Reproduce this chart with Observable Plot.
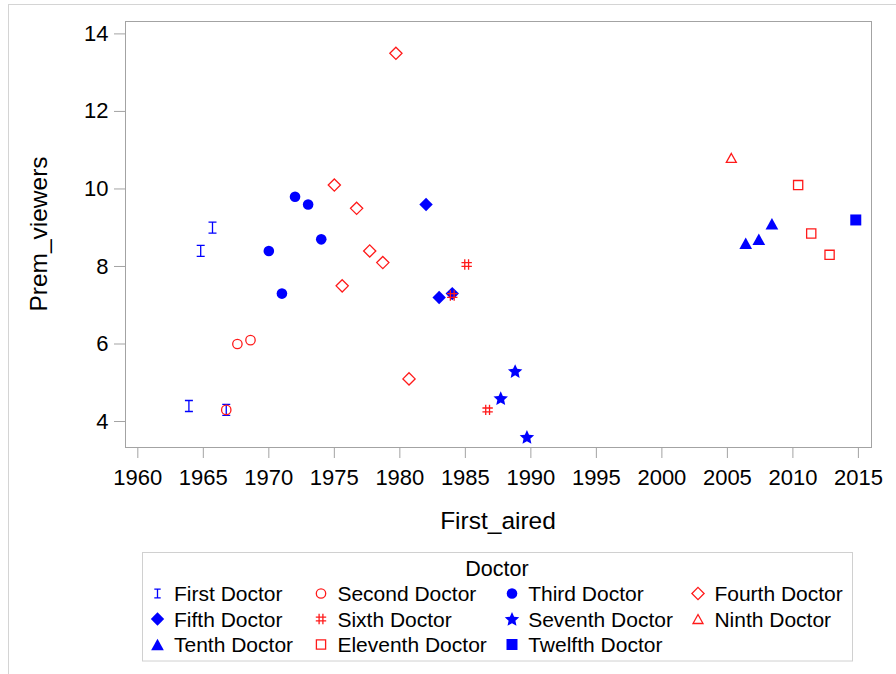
<!DOCTYPE html>
<html><head><meta charset="utf-8">
<script src="https://cdn.jsdelivr.net/npm/d3@7"></script>
<script src="https://cdn.jsdelivr.net/npm/@observablehq/plot@0.6"></script>
<style>
html,body{margin:0;padding:0;background:#fff;}
#wrap{position:relative;width:896px;height:674px;overflow:hidden;font-family:"Liberation Sans",Arial,sans-serif;}
#chart{position:absolute;left:0;top:0;}
#legend{position:absolute;left:0;top:545px;}
#border{position:absolute;left:8px;top:4px;width:1200px;height:1200px;border:1px solid #d4d4d4;pointer-events:none;}
</style></head>
<body><div id="wrap"><div id="chart"></div><div id="legend"></div><div id="border"></div></div>
<script>
// ---- data ----
const doctors = ["First Doctor","Second Doctor","Third Doctor","Fourth Doctor","Fifth Doctor","Sixth Doctor",
  "Seventh Doctor","Ninth Doctor","Tenth Doctor","Eleventh Doctor","Twelfth Doctor"];
const firstAired = [
  [1963.9, 1964.8, 1965.7, 1966.75],
  [1966.75, 1967.6, 1968.6],
  [1970.0, 1971.0, 1972.0, 1973.0, 1974.0],
  [1975.0, 1975.6, 1976.7, 1977.7, 1978.7, 1979.7, 1980.7],
  [1982.0, 1983.0, 1984.0],
  [1984.0, 1985.1, 1986.7],
  [1987.7, 1988.8, 1989.7],
  [2005.3],
  [2006.4, 2007.4, 2008.4],
  [2010.4, 2011.4, 2012.8],
  [2014.8]
];
const premViewers = [
  [4.4, 8.4, 9.0, 4.3],
  [4.3, 6.0, 6.1],
  [8.4, 7.3, 9.8, 9.6, 8.7],
  [10.1, 7.5, 9.5, 8.4, 8.1, 13.5, 5.1],
  [9.6, 7.2, 7.3],
  [7.25, 8.05, 4.3],
  [4.6, 5.3, 3.6],
  [10.8],
  [8.6, 8.7, 9.1],
  [10.1, 8.85, 8.3],
  [9.2]
];
const xTicks = [1960,1965,1970,1975,1980,1985,1990,1995,2000,2005,2010,2015];
const yTicks = [4,6,8,10,12,14];
const xLabel = "First_aired", yLabel = "Prem_viewers", legendTitle = "Doctor";

// ---- symbols ----
const FONT = '"Liberation Sans", Arial, sans-serif';
const BLUE = "#0000ff", RED = "#ff1a1a";
const circ = r => ({draw(c){c.moveTo(r,0);c.arc(0,0,r,0,2*Math.PI);c.closePath();}});
const diam = h => ({draw(c){c.moveTo(0,-h);c.lineTo(h,0);c.lineTo(0,h);c.lineTo(-h,0);c.closePath();}});
const sq = h => ({draw(c){c.moveTo(-h,-h);c.lineTo(h,-h);c.lineTo(h,h);c.lineTo(-h,h);c.closePath();}});
const tri = (w,h) => ({draw(c){c.moveTo(0,-h/2);c.lineTo(w/2,h/2);c.lineTo(-w/2,h/2);c.closePath();}});
const star = R => ({draw(c){const r=R*0.47;for(let i=0;i<10;i++){const a=-Math.PI/2+i*Math.PI/5,rr=i%2?r:R;const x=rr*Math.cos(a),y=rr*Math.sin(a)+0.6;i?c.lineTo(x,y):c.moveTo(x,y);}c.closePath();}});
const ibeam = k => ({draw(c){const w=4*k,h=5.5*k;c.moveTo(-w,-h);c.lineTo(w,-h);c.moveTo(0,-h);c.lineTo(0,h);c.moveTo(-w,h);c.lineTo(w,h);}});
const hash = {draw(c){const a=1.9,e=5.2;c.moveTo(-a,-e);c.lineTo(-a,e);c.moveTo(a,-e);c.lineTo(a,e);c.moveTo(-e,-a);c.lineTo(e,-a);c.moveTo(-e,a);c.lineTo(e,a);}};

const styles = [
  {symbol: ibeam(1), legSymbol: ibeam(0.8), fill: "none", stroke: BLUE, sw: 1.3},
  {symbol: circ(4.7), fill: "none", stroke: RED, sw: 1.3},
  {symbol: circ(5.3), fill: BLUE, stroke: "none", sw: 0},
  {symbol: diam(6.1), fill: "none", stroke: RED, sw: 1.3},
  {symbol: diam(6.7), fill: BLUE, stroke: "none", sw: 0},
  {symbol: hash, fill: "none", stroke: RED, sw: 1.3},
  {symbol: star(7.6), fill: BLUE, stroke: "none", sw: 0},
  {symbol: tri(10, 9), fill: "none", stroke: RED, sw: 1.3},
  {symbol: tri(12.7, 11.5), fill: BLUE, stroke: "none", sw: 0},
  {symbol: sq(4.6), fill: "none", stroke: RED, sw: 1.3},
  {symbol: sq(5.5), fill: BLUE, stroke: "none", sw: 0}
];

const rows = doctors.map((d, i) => firstAired[i].map((x, j) => ({doctor: d, x, y: premViewers[i][j]})));

const GRAY = "#a3a3a3";
const svg = Plot.plot({
  width: 896, height: 545,
  marginLeft: 125, marginRight: 25, marginTop: 21, marginBottom: 98,
  style: {fontFamily: FONT, background: "transparent", color: "#000"},
  x: {domain: [1959.06, 2016.0]},
  y: {domain: [3.33, 14.32]},
  marks: [
    Plot.frame({stroke: GRAY}),
    Plot.axisX({ticks: xTicks, tickFormat: d => String(d), tickSize: 11, tickPadding: 11, fontSize: 22, stroke: GRAY, fill: "#000", label: null}),
    Plot.axisY({ticks: yTicks, tickSize: 11, tickPadding: 6, fontSize: 22, stroke: GRAY, fill: "#000", label: null}),
    ...rows.map((data, i) => Plot.dot(data, {x: "x", y: "y", r: 5, symbol: styles[i].symbol,
      fill: styles[i].fill, stroke: styles[i].stroke, strokeWidth: styles[i].sw}))
  ]
});
const s = d3.select(svg);
s.append("text").attr("x", 498).attr("y", 529.3).attr("text-anchor", "middle")
  .attr("font-size", 24.5).attr("fill", "#000").text(xLabel);
s.append("text").attr("transform", "translate(47,234) rotate(-90)").attr("text-anchor", "middle")
  .attr("font-size", 24.5).attr("fill", "#000").text(yLabel);
document.getElementById("chart").appendChild(svg);

// ---- legend ----
const oy = 545;
const leg = d3.create("svg").attr("width", 896).attr("height", 129).style("font-family", FONT);
leg.append("rect").attr("x", 142.5).attr("y", 552.5 - oy).attr("width", 710).attr("height", 108.5)
  .attr("fill", "none").attr("stroke", "#d0d0d0");
leg.append("text").attr("x", 497).attr("y", 575.5 - oy).attr("text-anchor", "middle")
  .attr("font-size", 21.5).attr("fill", "#000").text(legendTitle);
const colSym = [157.5, 321, 512, 698], colText = [174, 337.4, 528.2, 714.4], rowY = [593.5, 619, 644.5];
doctors.forEach((d, i) => {
  const r = Math.floor(i / 4), c = i % 4, st = styles[i];
  const p = d3.path(); (st.legSymbol || st.symbol).draw(p);
  leg.append("path").attr("transform", `translate(${colSym[c]},${rowY[r] - oy})`).attr("d", p.toString())
    .attr("fill", st.fill).attr("stroke", st.stroke).attr("stroke-width", st.sw);
  leg.append("text").attr("x", colText[c]).attr("y", rowY[r] - oy).attr("dy", "0.36em")
    .attr("font-size", 21).attr("fill", "#000").text(d);
});
document.getElementById("legend").appendChild(leg.node());
</script>
</body></html>
